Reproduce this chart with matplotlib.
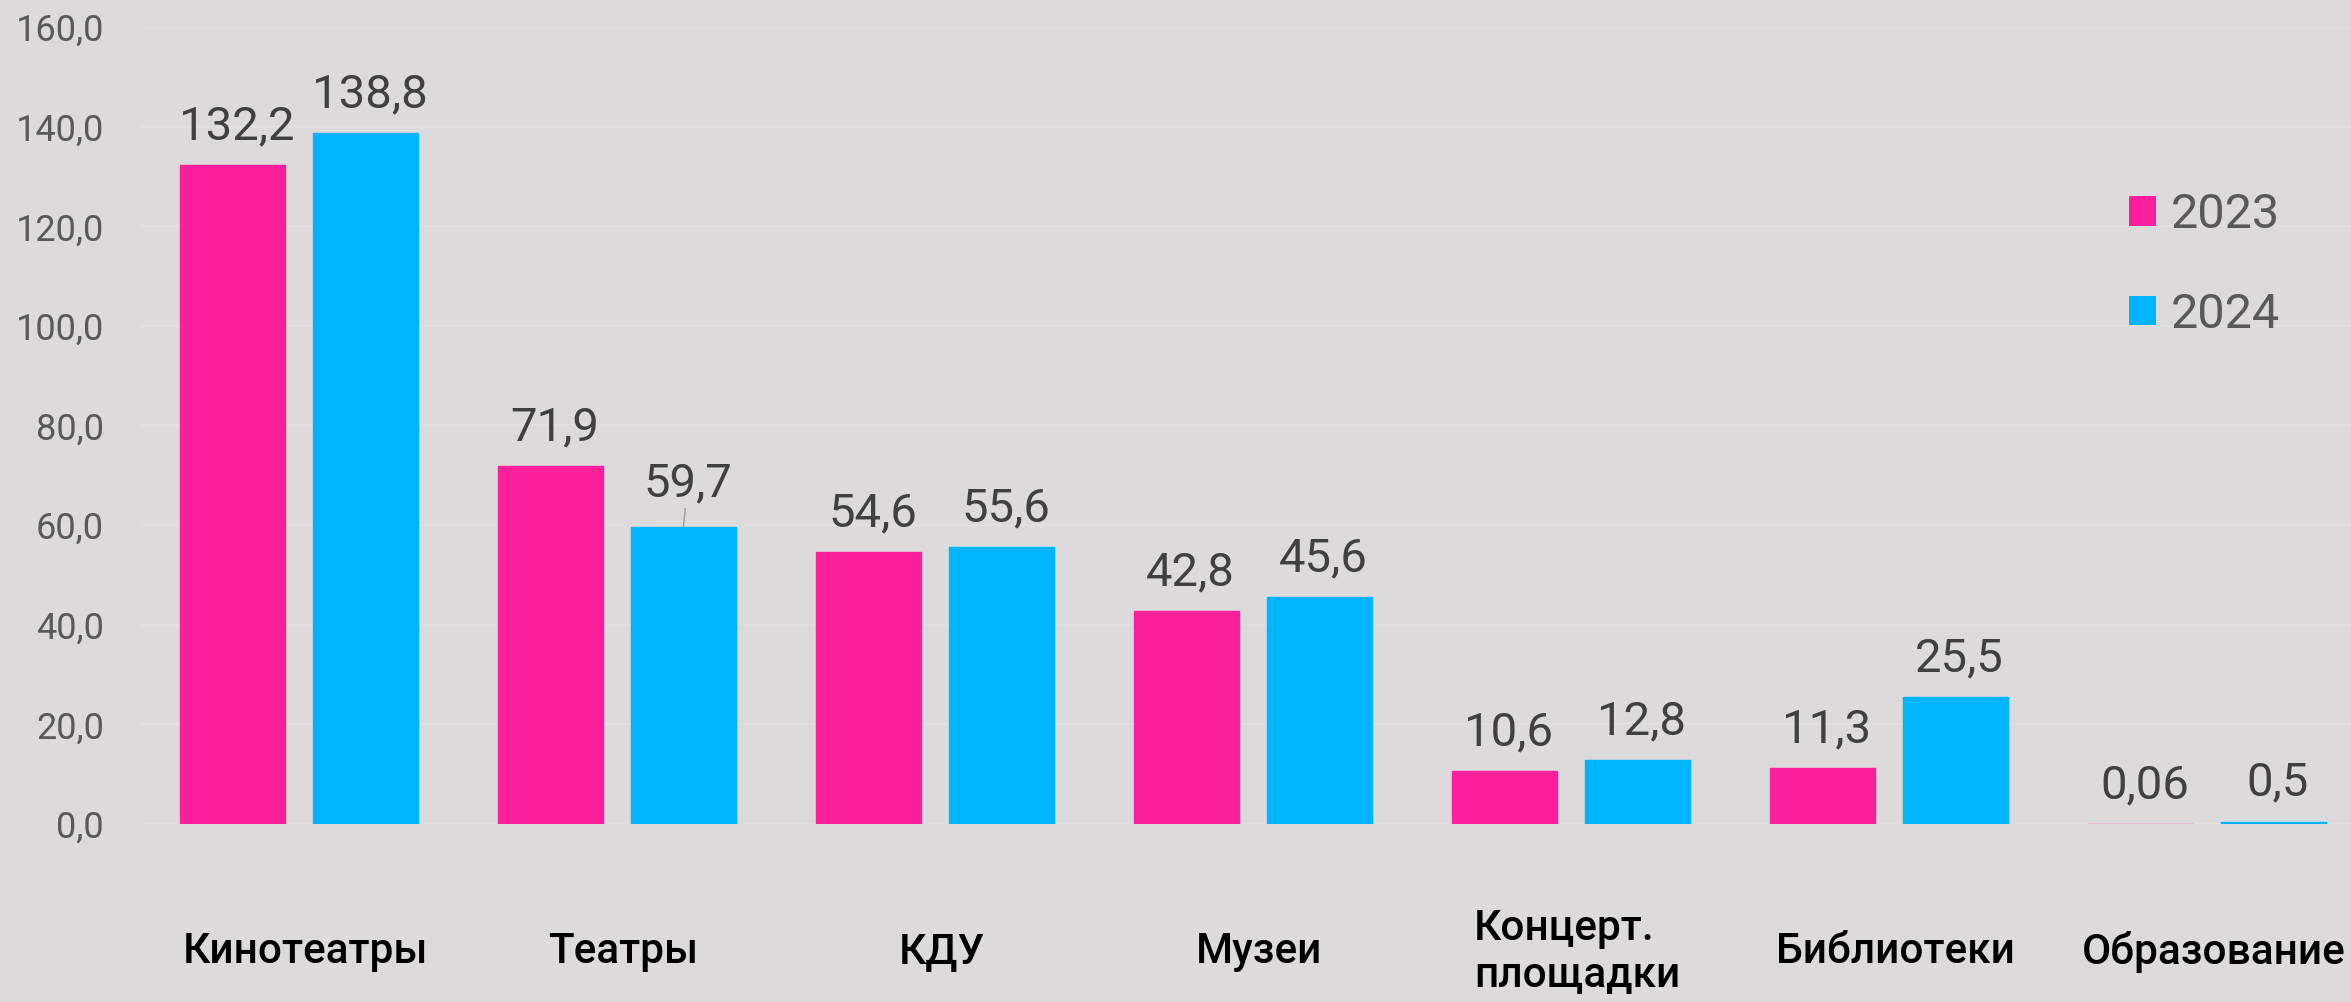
import matplotlib
matplotlib.use("Agg")
import matplotlib.pyplot as plt
from matplotlib.patches import Patch
import numpy as np

categories = ["Кинотеатры", "Театры", "КДУ", "Музеи", "Концерт.\nплощадки", "Библиотеки", "Образование"]
values_2023 = [132.2, 71.9, 54.6, 42.8, 10.6, 11.3, 0.06]
values_2024 = [138.8, 59.7, 55.6, 45.6, 12.8, 25.5, 0.5]
series_names = ["2023", "2024"]
y_ticks = [0, 20, 40, 60, 80, 100, 120, 140, 160]

PINK = "#fc1f9b"
BLUE = "#00b4ff"
BG = "#dcdadb"

plt.rcParams['font.family'] = ['Roboto', 'DejaVu Sans']

W, H = 2351, 1002
fig = plt.figure(figsize=(W / 100, H / 100), dpi=100, facecolor=BG)
ax = fig.add_axes([140 / W, (H - 824) / H, (W - 140) / W, 797 / H])
ax.set_facecolor(BG)

x = np.arange(len(categories))
cell = 318.0
bw = 105 / cell
off = (105 + 28) / 2 / cell

b1 = ax.bar(x - off, values_2023, bw, color=PINK, edgecolor=PINK, lw=1, zorder=3)
b2 = ax.bar(x + off, values_2024, bw, color=BLUE, edgecolor=BLUE, lw=1, zorder=3)

ax.set_xlim(-0.5, -0.5 + (W - 140) / cell)
ax.set_ylim(0, 160)

for t in y_ticks:
    ax.axhline(t, color="#e0dedf", lw=1.5, zorder=1)

ax.set_yticks(y_ticks)
ax.set_yticklabels([f"{t:.1f}".replace(".", ",") for t in y_ticks],
                   fontsize=26, color="#595959")
ax.tick_params(axis="y", length=0, pad=26)
ax.set_xticks([])
for s in ax.spines.values():
    s.set_visible(False)


def fmt(v):
    s = f"{v:.2f}" if v < 0.1 else f"{v:.1f}"
    return s.replace(".", ",")


for bars, vals in ((b1, values_2023), (b2, values_2024)):
    for i, (r, v) in enumerate(zip(bars, vals)):
        cx = r.get_x() + r.get_width() / 2
        if bars is b2 and i == 1:
            ax.annotate(fmt(v), xy=(cx, v), xytext=(3, 15), textcoords="offset points",
                        ha="center", va="bottom", fontsize=34, color="#404040",
                        arrowprops=dict(arrowstyle="-", color="#9a9a9a", lw=1,
                                        shrinkA=0, shrinkB=0))
        else:
            ax.annotate(fmt(v), xy=(cx, v), xytext=(3, 12), textcoords="offset points",
                        ha="center", va="bottom", fontsize=34, color="#404040")

for i, c in enumerate(categories):
    ax.text(i + 0.02, -25.6, c, ha="center", va="center", multialignment="left",
            fontsize=30.5, fontweight="medium", color="#000000", linespacing=1.15,
            clip_on=False)

handles = [Patch(facecolor=PINK, edgecolor="none"), Patch(facecolor=BLUE, edgecolor="none")]
fig.legend(handles, series_names, loc="center left", bbox_to_anchor=(2129 / W, (H - 265) / H),
           frameon=False, fontsize=35, labelcolor="#595959", handlelength=0.55,
           handleheight=0.55, handletextpad=0.3, labelspacing=1.1, borderpad=0,
           borderaxespad=0)

fig.savefig("out.png", dpi=100, facecolor=BG)
